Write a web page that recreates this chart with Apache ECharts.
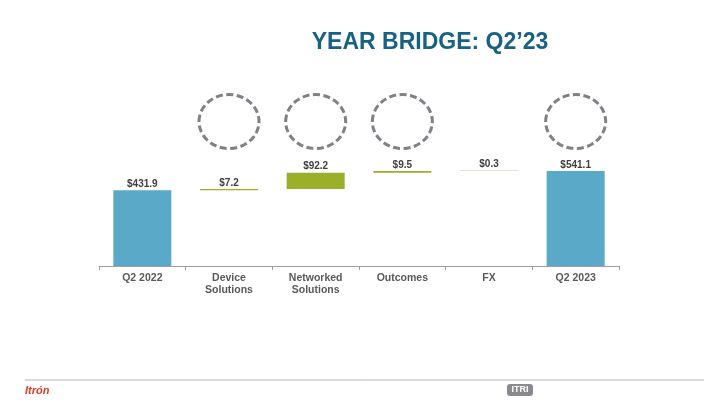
<!DOCTYPE html>
<html>
<head>
<meta charset="utf-8">
<script src="https://cdn.jsdelivr.net/npm/echarts@6/dist/echarts.min.js"></script>
<style>
html,body{margin:0;padding:0;background:#fff;}
#chart{width:720px;height:405px;}
</style>
</head>
<body>
<div id="chart"></div>
<script>
// ---- data ----
const categories = ['Q2 2022', 'Device\nSolutions', 'Networked\nSolutions', 'Outcomes', 'FX', 'Q2 2023'];
const values = [431.9, 7.2, 92.2, 9.5, 0.3, 541.1];
const kinds = ['total', 'delta', 'delta', 'delta', 'delta', 'total'];
const circled = [false, true, true, true, false, true];

// ---- styling ----
const FONT = '"Liberation Sans", Arial, Helvetica, sans-serif';
const BLUE = '#5AA9C9';
const GREEN = '#9BAF2A';
const FX_COLOR = '#E3E9D1';
const CIRCLE_LEVEL = 823;

// build waterfall bases
const bases = [];
let running = 0;
values.forEach((v, i) => {
  if (kinds[i] === 'total') { bases.push(0); running = v; }
  else { bases.push(running); running += v; }
});
const barData = values.map((v, i) => ({
  value: v,
  itemStyle: { color: kinds[i] === 'total' ? BLUE : (categories[i] === 'FX' ? FX_COLOR : GREEN) }
}));
const circleData = [];
circled.forEach((c, i) => { if (c) circleData.push([i, CIRCLE_LEVEL]); });

const chart = echarts.init(document.getElementById('chart'), null, { renderer: 'canvas' });
chart.setOption({
  animation: false,
  backgroundColor: '#ffffff',
  textStyle: { fontFamily: FONT },
  grid: { left: 99, right: 101, top: 108, bottom: 139, containLabel: false },
  xAxis: {
    type: 'category',
    data: categories,
    axisLine: { lineStyle: { color: '#9C9CA4', width: 1.2 } },
    axisTick: { show: true, length: 4, lineStyle: { color: '#9C9CA4' } },
    axisLabel: { color: '#595959', fontWeight: 'bold', fontSize: 10.5, lineHeight: 12, margin: 6, fontFamily: FONT, interval: 0 }
  },
  yAxis: {
    type: 'value', min: 0, max: 900,
    show: false, splitLine: { show: false }
  },
  series: [
    {
      type: 'bar', stack: 'w', data: bases, barWidth: 58,
      itemStyle: { color: 'rgba(0,0,0,0)' }, silent: true
    },
    {
      type: 'bar', stack: 'w', data: barData, barWidth: 58, barMinHeight: 1,
      label: {
        show: true, position: 'top', distance: 1,
        formatter: p => '$' + p.value.toFixed(1),
        color: '#404040', fontWeight: 'bold', fontSize: 10, fontFamily: FONT
      }
    },
    {
      type: 'custom', data: circleData, silent: true, z: 5,
      renderItem: (params, api) => {
        const p = api.coord([api.value(0), api.value(1)]);
        return {
          type: 'ellipse',
          shape: { cx: p[0], cy: p[1], rx: 30, ry: 27 },
          style: { fill: 'none', stroke: '#808087', lineWidth: 3, lineDash: [7, 3.5] }
        };
      }
    }
  ],
  graphic: [
    { type: 'text', x: 430, y: 43, style: { text: 'YEAR BRIDGE: Q2\u201923', fill: '#176283', font: 'bold 23px ' + FONT, textAlign: 'center', textVerticalAlign: 'middle' } },
    { type: 'line', shape: { x1: 25, y1: 380, x2: 704, y2: 380 }, style: { stroke: '#B4B4B4', lineWidth: 1 } },
    { type: 'text', x: 25, y: 391, style: { text: 'Itr\u00f3n', fill: '#E03C1E', font: 'italic bold 11px ' + FONT, textAlign: 'left', textVerticalAlign: 'middle' } },
    { type: 'rect', shape: { x: 507, y: 384, width: 26, height: 12, r: 3 }, style: { fill: '#8A8A8E' } },
    { type: 'text', x: 520, y: 390, style: { text: 'ITRI', fill: '#ffffff', font: 'bold 9px ' + FONT, textAlign: 'center', textVerticalAlign: 'middle' } }
  ]
});
</script>
</body>
</html>
